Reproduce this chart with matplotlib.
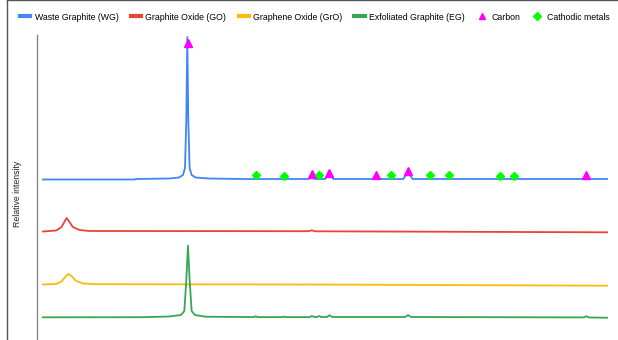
import matplotlib
matplotlib.use("Agg")
import matplotlib.pyplot as plt
from matplotlib.lines import Line2D

plt.rcParams['font.family'] = ['Liberation Sans', 'DejaVu Sans']

# 2-theta (deg) and stacked relative intensity
wg_x = [5, 18.9, 19.0, 24, 25.5, 26.1, 26.4, 26.6, 26.75, 26.9, 27.1, 27.4, 28, 30, 35,
        45.0, 45.5, 46.0, 47.5, 48.15, 48.8, 59.3, 60.0, 60.7, 86.3, 86.9, 87.5, 90]
wg_y = [160.5, 160.5, 161, 161.5, 162.5, 165, 172, 220, 303, 220, 172, 165, 162.5, 161.5, 161,
        161, 162.5, 161, 161, 166, 161, 161, 168, 161, 161, 163, 161, 161]

go_x = [5, 7, 7.8, 8.3, 8.57, 8.9, 9.5, 10.5, 12, 45.0, 45.5, 46, 90]
go_y = [108.5, 109.5, 113, 119, 122, 119, 113, 110, 109, 108.8, 109.7, 108.7, 107.7]

gro_x = [5, 7, 7.8, 8.4, 8.81, 9.3, 10, 11, 13, 45.5, 90]
gro_y = [55.5, 56, 58.5, 63.5, 66, 64, 59, 56.5, 55.8, 55.5, 54.3]

eg_x = [5, 20, 24, 25.8, 26.3, 26.6, 26.85, 27.1, 27.4, 27.9, 29.5, 36.8, 37.05, 37.3,
        41.1, 41.3, 41.5, 45.2, 45.5, 45.9, 46.3, 46.6, 46.9, 47.8, 48.15, 48.6,
        59.6, 60.0, 60.5, 86.5, 86.9, 87.3, 90]
eg_y = [22.7, 22.8, 23.5, 25, 29, 60, 94.3, 60, 29, 25, 23.3, 22.9, 23.8, 22.9,
        22.9, 23.5, 22.9, 22.9, 24, 23, 23, 24, 23, 23, 24.8, 23,
        23, 25, 23, 22.6, 23.8, 22.5, 22.3]

carbon_x = [26.85, 45.5, 48.15, 55.2, 60.0, 86.9]
carbon_y = [297, 166, 167.3, 165, 169.3, 165.3]

metals_x = [37.05, 41.3, 46.6, 57.5, 63.3, 66.2, 73.9, 76.0]
metals_y = [165, 164.3, 165, 165, 165, 165, 164.5, 164.5]

fig = plt.figure(figsize=(6.18, 3.4), dpi=100)
ax = fig.add_axes([37 / 618, 0, 575 / 618, 305 / 340])

lw = 1.3
ax.plot(wg_x, wg_y, color='#4285F4', lw=lw, label='Waste Graphite (WG)')
ax.plot(go_x, go_y, color='#EA4335', lw=lw, label='Graphite Oxide (GO)')
ax.plot(gro_x, gro_y, color='#FBBC04', lw=lw, label='Graphene Oxide (GrO)')
ax.plot(eg_x, eg_y, color='#34A853', lw=lw, label='Exfoliated Graphite (EG)')
ax.plot(carbon_x, carbon_y, ls='none', marker='^', ms=5.5, color='#FF00FF', label='Carbon')
ax.plot(metals_x, metals_y, ls='none', marker='D', ms=4.5, color='#00FF00', label='Cathodic metals')

ax.set_xlim(4.1, 90.75)
ax.set_ylim(0, 305)
ax.set_xticks([])
ax.set_yticks([])
for s in ['top', 'right', 'bottom']:
    ax.spines[s].set_visible(False)
ax.spines['left'].set_color('#888888')
ax.spines['left'].set_linewidth(1.0)

fig.text(18 / 618, 1 - 194 / 340, 'Relative intensity', rotation=90, ha='center', va='center',
         fontsize=6.3, color='#222222')

handles, labels = ax.get_legend_handles_labels()
leg = fig.legend(handles, labels, loc='center', bbox_to_anchor=(315 / 618, 1 - 17 / 340), ncol=6,
                 frameon=False, fontsize=6.3, handlelength=1.15, handletextpad=0.5,
                 columnspacing=1.4, borderpad=0, markerscale=0.9)
for h in leg.legend_handles[:4]:
    h.set_linewidth(3)

# outer frame of the screenshot
fig.add_artist(Line2D([6.5 / 618, 6.5 / 618], [0, 1], transform=fig.transFigure, color='#555555', lw=1))
fig.add_artist(Line2D([6.5 / 618, 1], [0.999, 0.999], transform=fig.transFigure, color='#555555', lw=1))

fig.savefig('out.png', dpi=100)
